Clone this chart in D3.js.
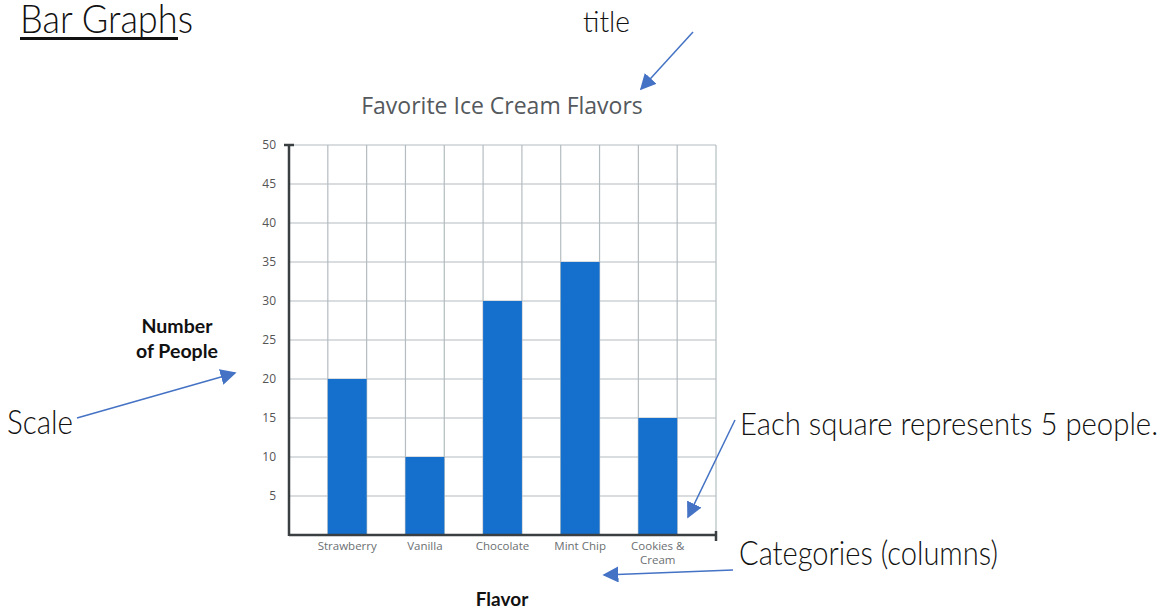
<!DOCTYPE html>
<html>
<head>
<meta charset="utf-8">
<script src="https://cdn.jsdelivr.net/npm/d3@7"></script>
<style>
  body { margin: 0; background: #fff; }
  svg { display: block; }
</style>
</head>
<body>
<div id="chart"></div>
<script>
var width = 1163;
var height = 612;

// chart data
var flavors = ["Strawberry", "Vanilla", "Chocolate", "Mint Chip", "Cookies & Cream"];
var people = [20, 10, 30, 35, 15];
var yTicks = [5, 10, 15, 20, 25, 30, 35, 40, 45, 50];

var plotL = 289, plotR = 716, plotT = 145, plotB = 535;

var svg = d3.select("#chart")
	.append("svg")
	.attr("width", width)
	.attr("height", height);

var y = d3.scaleLinear().domain([0, 50]).range([plotB, plotT]);
var x = d3.scaleBand().domain(flavors).range([plotL, plotR])
	.paddingInner(0.5).paddingOuter(0.5);
// grid columns are half a band step wide
var colW = x.step() / 2;
var cols = d3.range(1, Math.round((plotR - plotL) / colW) + 1);

// grid
svg.append("g")
	.selectAll("line")
	.data(yTicks)
	.enter().append("line")
	.attr("x1", plotL).attr("x2", plotR)
	.attr("y1", function(d) { return y(d); })
	.attr("y2", function(d) { return y(d); })
	.attr("stroke", "#b4bcc0")
	.attr("stroke-width", 1.2);

svg.append("g")
	.selectAll("line")
	.data(cols)
	.enter().append("line")
	.attr("x1", function(d) { return plotL + d * colW; })
	.attr("x2", function(d) { return plotL + d * colW; })
	.attr("y1", plotT).attr("y2", plotB)
	.attr("stroke", "#b4bcc0")
	.attr("stroke-width", 1.2);

// bars
svg.append("g")
	.selectAll("rect")
	.data(flavors)
	.enter().append("rect")
	.attr("x", function(d) { return x(d); })
	.attr("width", x.bandwidth())
	.attr("y", function(d, i) { return y(people[i]); })
	.attr("height", function(d, i) { return y(0) - y(people[i]); })
	.attr("fill", "#1570cd");

// y axis
var yAxis = svg.append("g")
	.attr("transform", "translate(" + plotL + ",0)")
	.call(d3.axisLeft(y).tickValues(yTicks).tickSize(0).tickPadding(13));
yAxis.select(".domain").remove();
yAxis.selectAll("text")
	.style("font-family", "Open Sans")
	.style("font-size", "12px")
	.attr("fill", "#555");

svg.append("line")
	.attr("x1", plotL).attr("x2", plotL)
	.attr("y1", plotT).attr("y2", plotB + 1)
	.attr("stroke", "#3a3f42").attr("stroke-width", 2.5);
svg.append("line")
	.attr("x1", plotL - 5).attr("x2", plotL + 5)
	.attr("y1", plotT).attr("y2", plotT)
	.attr("stroke", "#3a3f42").attr("stroke-width", 2.5);

// x axis
svg.append("line")
	.attr("x1", plotL).attr("x2", plotR)
	.attr("y1", plotB).attr("y2", plotB)
	.attr("stroke", "#3a3f42").attr("stroke-width", 2.5);
svg.append("line")
	.attr("x1", plotR).attr("x2", plotR)
	.attr("y1", plotB - 4).attr("y2", plotB + 6)
	.attr("stroke", "#3a3f42").attr("stroke-width", 2.5);

var xl = svg.append("g")
	.selectAll("text")
	.data(flavors)
	.enter().append("text")
	.attr("x", function(d) { return x(d) + x.bandwidth() / 2; })
	.attr("y", plotB + 15)
	.style("text-anchor", "middle")
	.style("font-family", "Open Sans")
	.style("font-size", "11.5px")
	.attr("fill", "#6b6f72");
xl.each(function(d) {
	var parts = d == "Cookies & Cream" ? ["Cookies &", "Cream"] : [d];
	var t = d3.select(this);
	parts.forEach(function(p, i) {
		t.append("tspan").attr("x", x(d) + x.bandwidth() / 2).attr("dy", i ? 14 : 0).text(p);
	});
});

// titles
svg.append("text")
	.attr("x", 502).attr("y", 114)
	.style("text-anchor", "middle")
	.style("font-family", "Open Sans")
	.style("font-size", "23px")
	.attr("fill", "#54595d")
	.text("Favorite Ice Cream Flavors");

svg.append("text")
	.attr("x", 502).attr("y", 606)
	.style("text-anchor", "middle")
	.style("font-family", "Lato")
	.style("font-weight", "bold")
	.style("font-size", "19px")
	.attr("fill", "#111")
	.text("Flavor");

var yl = svg.append("text")
	.attr("x", 177).attr("y", 333)
	.style("text-anchor", "middle")
	.style("font-family", "Lato")
	.style("font-weight", "bold")
	.style("font-size", "19.5px")
	.attr("fill", "#111");
yl.append("tspan").attr("x", 177).text("Number");
yl.append("tspan").attr("x", 177).attr("dy", 25).text("of People");

// annotations
var notes = [
	{ text: "Bar Graphs", x: 20, y: 33, size: 40, len: 173 },
	{ text: "title", x: 583, y: 32, size: 30, len: 47 },
	{ text: "Scale", x: 7, y: 434, size: 34, len: 66 },
	{ text: "Each square represents 5 people.", x: 740, y: 435, size: 32, len: 418 },
	{ text: "Categories (columns)", x: 739, y: 565, size: 34, len: 259 }
];
svg.append("g")
	.selectAll("text")
	.data(notes)
	.enter().append("text")
	.attr("x", function(d) { return d.x; })
	.attr("y", function(d) { return d.y; })
	.attr("textLength", function(d) { return d.len; })
	.attr("lengthAdjust", "spacingAndGlyphs")
	.style("font-family", "Lato")
	.style("font-weight", 300)
	.style("font-size", function(d) { return d.size + "px"; })
	.attr("fill", "#111")
	.text(function(d) { return d.text; });

svg.append("line")
	.attr("x1", 20).attr("x2", 178)
	.attr("y1", 38.5).attr("y2", 38.5)
	.attr("stroke", "#111").attr("stroke-width", 3);

// arrows
svg.append("defs").append("marker")
	.attr("id", "head")
	.attr("viewBox", "0 0 10 10")
	.attr("refX", 9).attr("refY", 5)
	.attr("markerWidth", 16).attr("markerHeight", 16)
	.attr("markerUnits", "userSpaceOnUse")
	.attr("orient", "auto")
	.append("path")
	.attr("d", "M0,0 L10,5 L0,10 Z")
	.attr("fill", "#4472c4");

var arrows = [
	[693, 32, 641, 89],
	[77, 418, 235, 373],
	[735, 420, 688, 517],
	[733, 570, 604, 575]
];
svg.append("g")
	.selectAll("line")
	.data(arrows)
	.enter().append("line")
	.attr("x1", function(d) { return d[0]; })
	.attr("y1", function(d) { return d[1]; })
	.attr("x2", function(d) { return d[2]; })
	.attr("y2", function(d) { return d[3]; })
	.attr("stroke", "#4472c4")
	.attr("stroke-width", 1.5)
	.attr("marker-end", "url(#head)");
</script>
</body>
</html>
